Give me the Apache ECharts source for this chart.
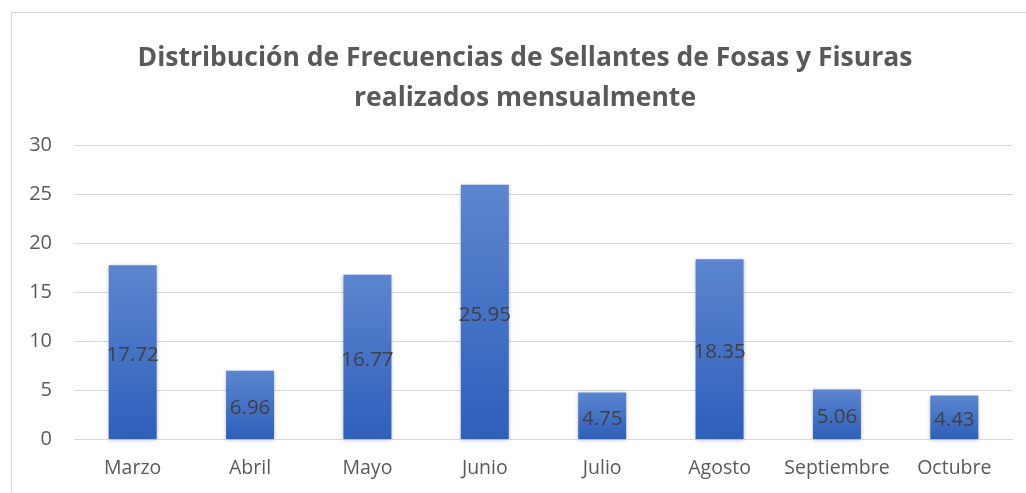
<!DOCTYPE html>
<html>
<head>
<meta charset="utf-8">
<script src="https://cdn.jsdelivr.net/npm/echarts@6/dist/echarts.min.js"></script>
<style>
  html, body { margin: 0; padding: 0; background: #fff; }
  #chart { width: 1026px; height: 493px; }
</style>
</head>
<body>
<div id="chart"></div>
<script>
const months = ['Marzo', 'Abril', 'Mayo', 'Junio', 'Julio', 'Agosto', 'Septiembre', 'Octubre']
const sellantes = [17.72, 6.96, 16.77, 25.95, 4.75, 18.35, 5.06, 4.43]
const yTicks = { min: 0, max: 30, interval: 5 }

const chart = echarts.init(document.getElementById('chart'))
chart.setOption({
  animation: false,
  graphic: [
    {
      type: 'rect',
      shape: { x: 11.5, y: 12.5, width: 1100, height: 500 },
      style: { fill: 'none', stroke: '#d9d9d9', lineWidth: 1 }
    }
  ],
  title: {
    text: 'Distribución de Frecuencias de Sellantes de Fosas y Fisuras\nrealizados mensualmente',
    left: 520,
    top: 33,
    textAlign: 'center',
    textStyle: {
      fontFamily: 'Open Sans',
      fontWeight: 'bold',
      fontSize: 26.5,
      color: '#595959',
      lineHeight: 40
    }
  },
  grid: { left: 74, right: 13, top: 145, bottom: 54, containLabel: false },
  xAxis: {
    type: 'category',
    data: months,
    axisLine: { lineStyle: { color: '#d9d9d9', width: 1 } },
    axisTick: { show: false },
    axisLabel: {
      interval: 0,
      color: '#595959',
      fontFamily: 'Open Sans',
      fontSize: 19.5,
      margin: 19
    }
  },
  yAxis: {
    type: 'value',
    min: yTicks.min,
    max: yTicks.max,
    interval: yTicks.interval,
    axisLine: { show: false },
    axisTick: { show: false },
    splitLine: { lineStyle: { color: '#d9d9d9', width: 1 } },
    axisLabel: {
      color: '#595959',
      fontFamily: 'Open Sans',
      fontSize: 20,
      margin: 22
    }
  },
  series: [
    {
      type: 'bar',
      data: sellantes,
      barWidth: 48,
      itemStyle: {
        color: new echarts.graphic.LinearGradient(0, 0, 0, 1, [
          { offset: 0, color: '#5b86cf' },
          { offset: 1, color: '#2e5fbb' }
        ]),
        shadowColor: 'rgba(0,0,0,0.25)',
        shadowBlur: 4,
        shadowOffsetY: 1
      },
      label: {
        show: true,
        position: 'inside',
        offset: [0, 3],
        color: '#404040',
        fontFamily: 'Open Sans',
        fontSize: 20.5
      }
    }
  ]
})
</script>
</body>
</html>
